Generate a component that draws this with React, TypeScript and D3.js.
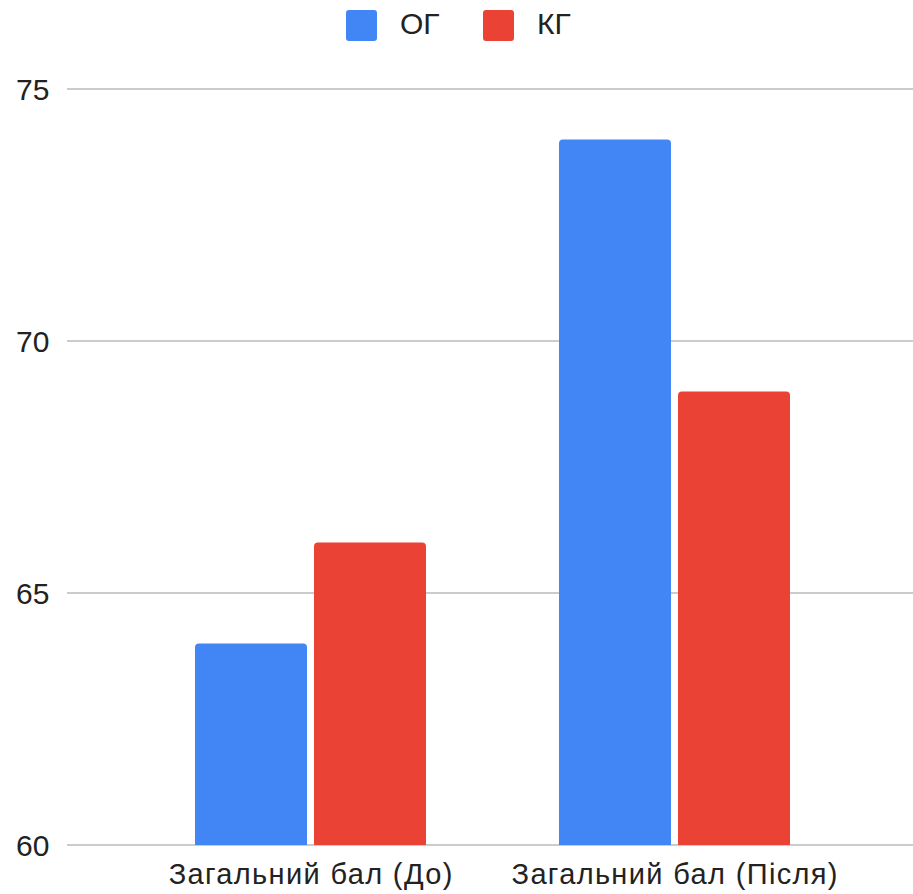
import { useEffect, useRef } from 'react';
import * as d3 from 'd3';

// Chart data
const CATEGORIES = ['Загальний бал (До)', 'Загальний бал (Після)'];
const SERIES = ['ОГ', 'КГ'];
const SERIES_COLORS = ['#4285F4', '#EA4335'];
const OG_VALUES = [64, 74];
const KG_VALUES = [66, 69];
const Y_TICKS = [60, 65, 70, 75];

const WIDTH = 913;
const HEIGHT = 894;
const FONT = '"Liberation Sans", Arial, sans-serif';

// Path for a bar with rounded top corners only
function topRoundedRect(x: number, y: number, w: number, h: number, r: number) {
  const rr = Math.min(r, w / 2, h);
  return `M${x},${y + h}V${y + rr}Q${x},${y} ${x + rr},${y}H${x + w - rr}Q${x + w},${y} ${x + w},${y + rr}V${y + h}Z`;
}

export default function App() {
  const svgRef = useRef<SVGSVGElement>(null);

  useEffect(() => {
    if (!svgRef.current) return;
    const svg = d3.select(svgRef.current);
    svg.selectAll('*').remove();

    const rows = CATEGORIES.map((c, i) => ({ category: c, values: [OG_VALUES[i], KG_VALUES[i]] }));

    const y = d3.scaleLinear().domain([60, 75]).range([845, 89]);

    const x0 = d3.scaleBand<string>()
      .domain(CATEGORIES)
      .range([128.5, 856.5])
      .paddingInner(0.3654)
      .paddingOuter(0.1827);

    const x1 = d3.scaleBand<string>()
      .domain(SERIES)
      .range([0, x0.bandwidth()])
      .paddingInner(0.0588);

    // Gridlines + tick labels
    const grid = svg.append('g');
    Y_TICKS.forEach((t) => {
      grid.append('line')
        .attr('x1', 67).attr('x2', WIDTH)
        .attr('y1', y(t)).attr('y2', y(t))
        .attr('stroke', '#cccccc')
        .attr('stroke-width', 2);
      grid.append('text')
        .attr('x', 16)
        .attr('y', y(t) + 10.5)
        .attr('font-family', FONT)
        .attr('font-size', 30)
        .attr('fill', '#222')
        .text(String(t));
    });

    // Bars
    const groups = svg.append('g')
      .selectAll('g')
      .data(rows)
      .join('g')
      .attr('transform', (d) => `translate(${x0(d.category)},0)`);

    groups.selectAll('path')
      .data((d) => d.values.map((v, i) => ({ key: SERIES[i], value: v, color: SERIES_COLORS[i] })))
      .join('path')
      .attr('d', (d) => topRoundedRect(x1(d.key)!, y(d.value), x1.bandwidth(), y(60) - y(d.value), 4))
      .attr('fill', (d) => d.color);

    // Category labels
    svg.append('g')
      .selectAll('text')
      .data(CATEGORIES)
      .join('text')
      .attr('x', (d) => x0(d)! + x0.bandwidth() / 2 + 0.7)
      .attr('y', 884)
      .attr('text-anchor', 'middle')
      .attr('font-family', FONT)
      .attr('font-size', 29)
      .attr('letter-spacing', 1.35)
      .attr('fill', '#222')
      .text((d) => d);

    // Legend
    const legendX = [346, 483];
    const legend = svg.append('g');
    SERIES.forEach((s, i) => {
      legend.append('rect')
        .attr('x', legendX[i]).attr('y', 10)
        .attr('width', 31).attr('height', 31)
        .attr('rx', 3)
        .attr('fill', SERIES_COLORS[i]);
      legend.append('text')
        .attr('x', legendX[i] + 54)
        .attr('y', 34.3)
        .attr('font-family', FONT)
        .attr('font-size', 30)
        .attr('fill', '#222')
        .text(s);
    });
  }, []);

  return (
    <div style={{ position: 'absolute', left: 0, top: 0, background: '#fff' }}>
      <svg ref={svgRef} width={WIDTH} height={HEIGHT} style={{ display: 'block' }} />
    </div>
  );
}
